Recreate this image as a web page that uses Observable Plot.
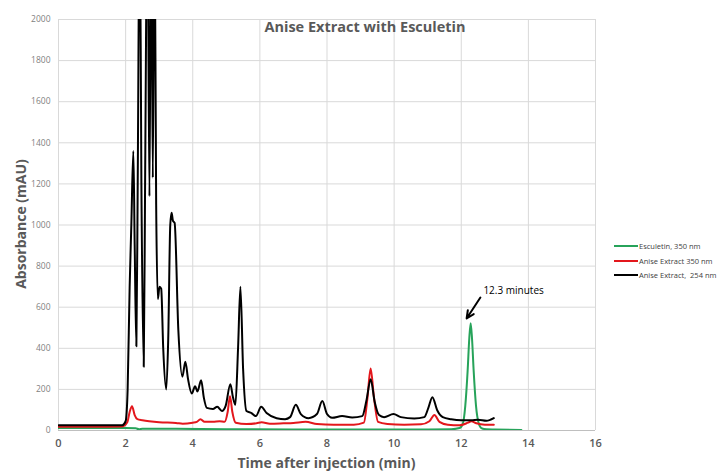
<!DOCTYPE html>
<html>
<head>
<meta charset="utf-8">
<script src="https://cdn.jsdelivr.net/npm/d3@7"></script>
<script src="https://cdn.jsdelivr.net/npm/@observablehq/plot@0.6"></script>
<style>
  body { margin: 0; background: #fff; font-family: "Open Sans", "DejaVu Sans", sans-serif; }
  #wrap { position: relative; width: 718px; height: 473px; overflow: hidden; }
  #title { position: absolute; left: 0; width: 718px; top: 17px; text-align: center; padding-left: 6px;
           font-size: 14.5px; font-weight: 700; color: #595959; }
  .axlabel { position: absolute; font-size: 14px; font-weight: 700; color: #595959; white-space: nowrap; }
  #xlab { left: 58px; width: 537px; text-align: center; top: 453px; }
  #ylab { left: 20px; top: 224px; transform: translate(-50%, -50%) rotate(-90deg); }
  #legend { position: absolute; left: 614px; top: 239px; width: 110px; font-size: 7.5px; color: #404040; }
  .li { display: flex; align-items: center; height: 14.5px; white-space: pre; }
  .sw { width: 24px; height: 2px; margin-right: 1px; flex: none; }
</style>
</head>
<body>
<div id="wrap">
  <div id="chart"></div>
  <div id="title"></div>
  <div id="xlab" class="axlabel"></div>
  <div id="ylab" class="axlabel"></div>
  <div id="legend"></div>
</div>
<script>
const titleText = "Anise Extract with Esculetin";
const xLabel = "Time after injection (min)";
const yLabel = "Absorbance (mAU)";
const seriesNames = ["Esculetin, 350 nm", "Anise Extract 350 nm", "Anise Extract,  254 nm"];
const seriesColors = ["#27a35a", "#e3171c", "#000000"];
const xTicks = [0, 2, 4, 6, 8, 10, 12, 14, 16];
const yTicks = [0, 200, 400, 600, 800, 1000, 1200, 1400, 1600, 1800, 2000];

// [time (min), absorbance (mAU)]
const esculetin350 = [
  [0,12],[1,12],[2,12],[2.3,11],[2.4,6],[2.5,9],[3.5,8],[5,6],[7,5],[9,5],[11,5],[11.7,6],
  [11.95,12],[12.05,35],[12.12,120],[12.19,290],[12.24,450],[12.28,522],[12.32,450],[12.37,290],
  [12.44,120],[12.52,35],[12.6,12],[12.75,6],[13,5],[13.79,3]
];
const anise350 = [
  [0,18],[1,18],[1.9,20],[2.05,40],[2.12,90],[2.19,118],[2.27,75],[2.35,55],[2.5,50],[2.7,45],
  [3,40],[3.5,37],[3.7,33],[4,38],[4.12,42],[4.23,55],[4.35,42],[4.6,42],[4.8,45],[4.95,42],
  [5.04,90],[5.11,167],[5.18,90],[5.28,38],[5.6,32],[5.9,35],[6.05,40],[6.3,33],[6.7,35],[7,37],
  [7.36,42],[7.7,32],[8.2,28],[8.8,28],[9.1,38],[9.2,150],[9.3,302],[9.4,160],[9.52,42],[9.8,32],
  [10.3,28],[10.8,30],[11.05,45],[11.2,76],[11.35,42],[11.6,28],[11.95,25],[12.2,38],[12.3,45],
  [12.45,35],[12.7,28],[12.97,28]
];
const anise254 = [
  [0,25],[1,25],[1.9,26],[2,45],[2.06,200],[2.12,700],[2.17,1000],[2.23,1360],[2.27,900],[2.32,410],
  [2.36,1200],[2.42,2600],[2.47,1200],[2.54,310],[2.58,1200],[2.65,2600],[2.71,1140],[2.76,2600],
  [2.81,1230],[2.86,2600],[2.91,1100],[2.96,640],[3.01,700],[3.06,690],[3.12,400],[3.21,200],
  [3.27,450],[3.33,1000],[3.37,1060],[3.41,1020],[3.46,1010],[3.57,490],[3.69,262],[3.78,335],
  [3.86,250],[3.97,180],[4.07,215],[4.14,190],[4.25,245],[4.33,160],[4.42,110],[4.6,105],
  [4.73,115],[4.87,95],[4.98,120],[5.12,225],[5.2,160],[5.27,125],[5.35,400],[5.42,700],[5.5,300],
  [5.6,95],[5.75,85],[5.88,70],[6.04,115],[6.2,85],[6.5,60],[6.75,55],[6.9,65],[7.07,125],[7.22,80],
  [7.45,60],[7.7,80],[7.86,143],[8,80],[8.15,62],[8.45,70],[8.75,63],[9.05,70],[9.18,150],[9.3,250],
  [9.42,140],[9.55,75],[9.7,65],[9.98,80],[10.2,65],[10.6,58],[10.9,65],[11.02,110],[11.14,162],
  [11.28,100],[11.45,65],[11.7,55],[12,50],[12.3,50],[12.5,52],[12.75,47],[12.97,60]
];
const annotText = ["12.3 minutes"];
const annotTextPos = [[12.66, 681]];
const annotArrow = [[12.57, 647, 12.16, 545]];

const toRows = (arr, name) => arr.map(([t, v]) => ({t, v, name}));
const rows = [
  ...toRows(esculetin350, seriesNames[0]),
  ...toRows(anise350, seriesNames[1]),
  ...toRows(anise254, seriesNames[2])
];

const plot = Plot.plot({
  width: 718,
  height: 473,
  marginLeft: 58,
  marginRight: 123,
  marginTop: 19,
  marginBottom: 43,
  style: { fontFamily: "'Open Sans', sans-serif", background: "#fff" },
  x: { domain: [0, 16], label: null },
  y: { domain: [0, 2000], label: null },
  color: { domain: seriesNames, range: seriesColors },
  marks: [
    Plot.gridY(yTicks, { stroke: "#d9d9d9", strokeOpacity: 1 }),
    Plot.gridX(xTicks, { stroke: "#d9d9d9", strokeOpacity: 1 }),
    Plot.ruleY([0], { stroke: "#bfbfbf" }),
    Plot.axisY(yTicks, { tickSize: 0, tickPadding: 8, fontSize: 8.5, fill: "#7f7f7f", label: null, tickFormat: d => String(d) }),
    Plot.axisX(xTicks, { tickSize: 0, tickPadding: 9, fontSize: 11, fontWeight: 600, fill: "#595959", label: null, tickFormat: d => String(d) }),
    Plot.line(rows, { x: "t", y: "v", z: "name", stroke: "name", strokeWidth: 2, curve: "monotone-x", clip: true }),
    Plot.arrow(annotArrow, { x1: d => d[0], y1: d => d[1], x2: d => d[2], y2: d => d[3],
      stroke: "#000", strokeWidth: 2, headLength: 9, headAngle: 50 }),
    Plot.text(annotTextPos, { x: d => d[0], y: d => d[1], text: (d, i) => annotText[i],
      textAnchor: "start", fontSize: 10, fill: "#000" })
  ]
});
document.getElementById("chart").appendChild(plot);
document.getElementById("title").textContent = titleText;
document.getElementById("xlab").textContent = xLabel;
document.getElementById("ylab").textContent = yLabel;
const leg = document.getElementById("legend");
seriesNames.forEach((n, i) => {
  const d = document.createElement("div");
  d.className = "li";
  d.innerHTML = `<span class="sw" style="background:${seriesColors[i]}"></span><span></span>`;
  d.lastChild.textContent = n;
  leg.appendChild(d);
});
</script>
</body>
</html>
